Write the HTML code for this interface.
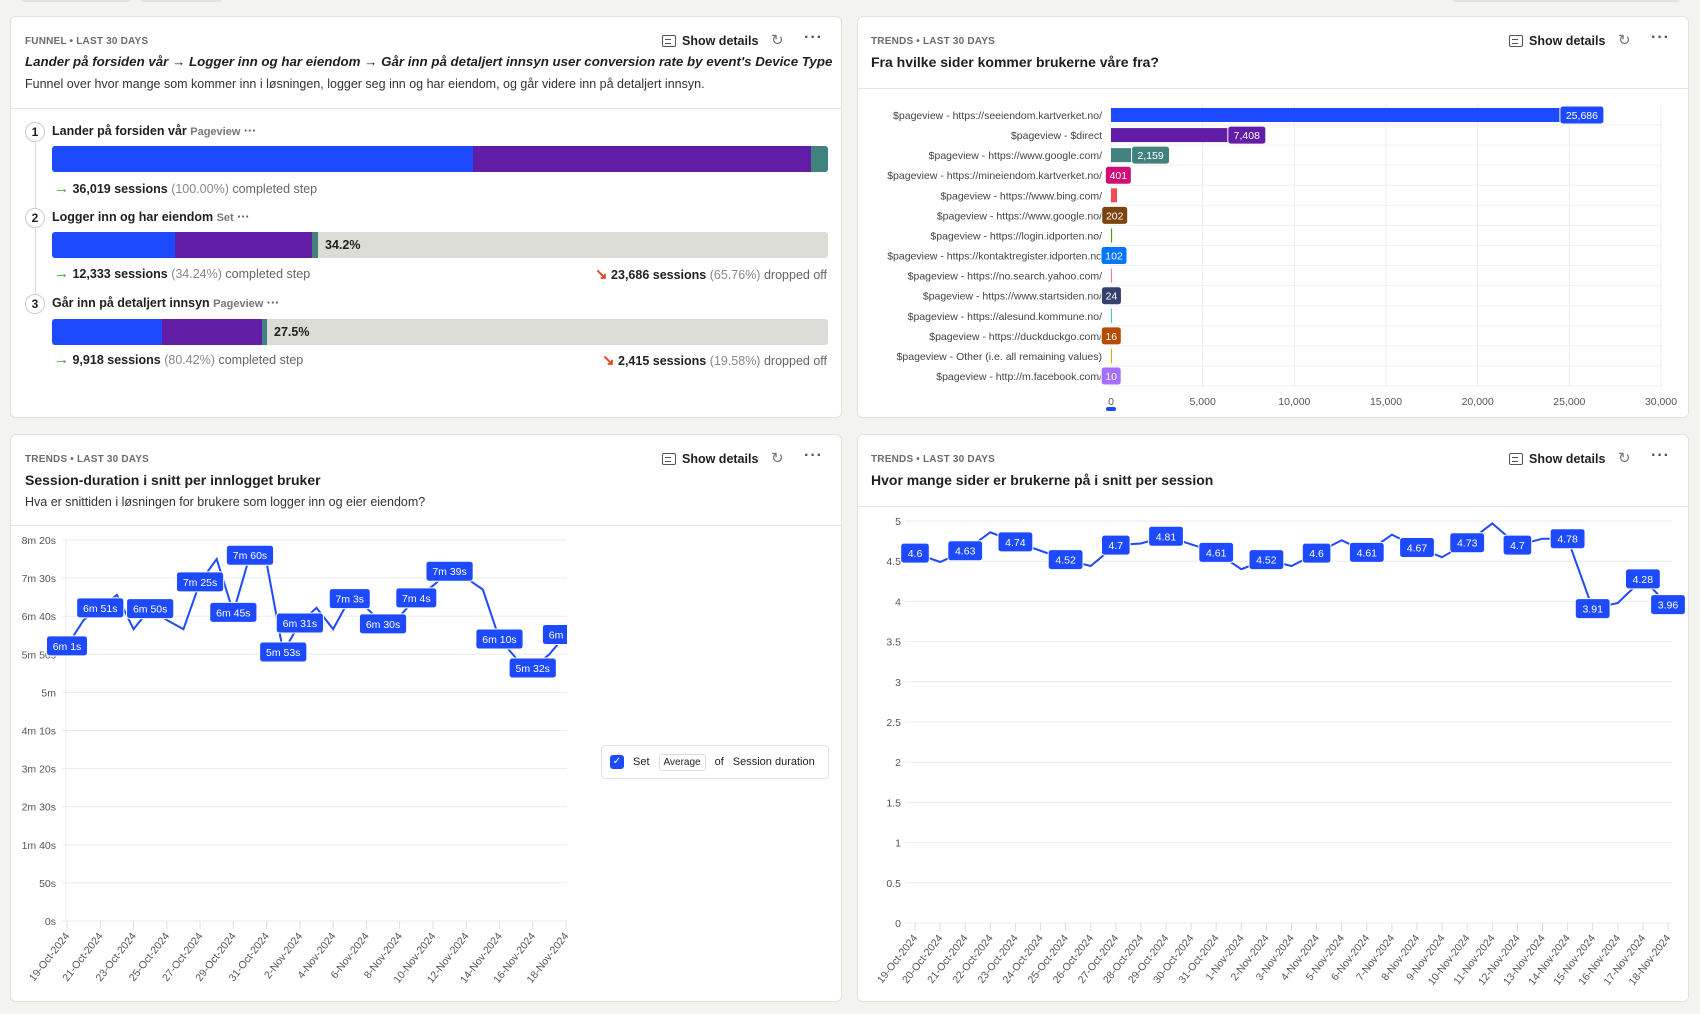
<!DOCTYPE html>
<html><head><meta charset="utf-8">
<style>
*{box-sizing:border-box;margin:0;padding:0}
body{width:1700px;height:1014px;background:#f3f3f0;font-family:"Liberation Sans",sans-serif;color:#1f1f1f;position:relative;overflow:hidden}
.card{position:absolute;background:#fff;border:1px solid #e3e3de;border-radius:6px}
.meta{position:absolute;font-size:10px;font-weight:bold;color:#6b6b6b;letter-spacing:.2px}
.title{position:absolute;font-size:14px;font-weight:bold;white-space:nowrap}
.desc{position:absolute;font-size:12.5px;color:#333;white-space:nowrap}
.hdrline{position:absolute;left:0;right:0;height:1px;background:#e6e6e1}
.btn{position:absolute;font-size:12.5px;font-weight:bold;display:flex;align-items:center;gap:6px;white-space:nowrap}
.ico{width:14px;height:12px;border:1.5px solid #555;border-radius:2px;position:relative}
.ico:after{content:"";position:absolute;left:2px;top:3px;width:6px;height:3px;border-top:1.5px solid #555;border-bottom:1.5px solid #555}
.ref{position:absolute;font-size:15px;color:#777}
.dots{position:absolute;font-size:16px;font-weight:bold;color:#555;letter-spacing:1px}
.step{position:absolute;font-size:12.5px;font-weight:bold;white-space:nowrap}
.step small{font-size:11px;color:#777;font-weight:bold}
.num{position:absolute;width:20px;height:20px;border:1px solid #ccc;border-radius:50%;font-size:12px;font-weight:bold;text-align:center;line-height:18px;background:#fff}
.bar{position:absolute;height:26px;border-radius:3px;overflow:hidden;display:flex;background:#dcdcd6}
.bar div{height:100%}
.stat{position:absolute;font-size:12.5px;white-space:nowrap}
.stat b{color:#222}.stat span{color:#888}
.stat .g{color:#3d9a2a;font-weight:bold;font-size:15px}.stat .r{color:#e8441c;font-weight:bold;font-size:15px}
svg text{font-family:"Liberation Sans",sans-serif}
</style></head><body>
<div style="position:absolute;left:22px;top:-4px;width:108px;height:6px;background:#e4e4df;border-radius:3px"></div>
<div style="position:absolute;left:140px;top:-4px;width:82px;height:6px;background:#e4e4df;border-radius:3px"></div>
<div style="position:absolute;left:1452px;top:-4px;width:228px;height:6px;background:#e4e4df;border-radius:3px"></div>

<!-- Funnel card -->
<div class="card" style="left:10px;top:16px;width:832px;height:402px">
 <div class="meta" style="left:14px;top:19px">FUNNEL • LAST 30 DAYS</div>
 <div class="btn" style="left:651px;top:17px"><span class="ico"></span>Show details</div>
 <div class="ref" style="left:760px;top:14px">↻</div>
 <div class="dots" style="left:793px;top:12px">···</div>
 <div class="title" style="left:14px;top:37px;font-style:italic;font-size:13.3px">Lander på forsiden vår → Logger inn og har eiendom → Går inn på detaljert innsyn user conversion rate by event's Device Type</div>
 <div class="desc" style="left:14px;top:60px">Funnel over hvor mange som kommer inn i løsningen, logger seg inn og har eiendom, og går videre inn på detaljert innsyn.</div>
 <div class="hdrline" style="top:91px"></div>
 <div style="position:absolute;left:24px;top:125px;width:1px;height:170px;background:#ddd"></div>
 <div class="num" style="left:14px;top:105px">1</div>
 <div class="step" style="left:41px;top:107px">Lander på forsiden vår <small>Pageview</small> <span style="color:#555">···</span></div>
 <div class="bar" style="left:41px;top:129px;width:776px"><div style="width:421px;background:#1d4aff"></div><div style="width:338px;background:#621da6"></div><div style="width:17px;background:#42827e"></div></div>
 <div class="stat" style="left:43px;top:163px"><span class="g">→</span> <b>36,019 sessions</b> <span>(100.00%)</span> <span style="color:#666">completed step</span></div>
 <div class="num" style="left:14px;top:191px">2</div>
 <div class="step" style="left:41px;top:193px">Logger inn og har eiendom <small>Set</small> <span style="color:#555">···</span></div>
 <div class="bar" style="left:41px;top:215px;width:776px"><div style="width:123px;background:#1d4aff"></div><div style="width:137px;background:#621da6"></div><div style="width:6px;background:#42827e"></div><b style="font-size:12.5px;line-height:26px;margin-left:7px">34.2%</b></div>
 <div class="stat" style="left:43px;top:248px"><span class="g">→</span> <b>12,333 sessions</b> <span>(34.24%)</span> <span style="color:#666">completed step</span></div>
 <div class="stat" style="right:14px;top:248px"><span class="r">↘</span> <b>23,686 sessions</b> <span>(65.76%)</span> <span style="color:#666">dropped off</span></div>
 <div class="num" style="left:14px;top:277px">3</div>
 <div class="step" style="left:41px;top:279px">Går inn på detaljert innsyn <small>Pageview</small> <span style="color:#555">···</span></div>
 <div class="bar" style="left:41px;top:302px;width:776px"><div style="width:110px;background:#1d4aff"></div><div style="width:100px;background:#621da6"></div><div style="width:5px;background:#42827e"></div><b style="font-size:12.5px;line-height:26px;margin-left:7px">27.5%</b></div>
 <div class="stat" style="left:43px;top:334px"><span class="g">→</span> <b>9,918 sessions</b> <span>(80.42%)</span> <span style="color:#666">completed step</span></div>
 <div class="stat" style="right:14px;top:334px"><span class="r">↘</span> <b>2,415 sessions</b> <span>(19.58%)</span> <span style="color:#666">dropped off</span></div>
</div>

<!-- Referrer card -->
<div class="card" style="left:857px;top:16px;width:832px;height:402px">
 <div class="meta" style="left:13px;top:19px">TRENDS • LAST 30 DAYS</div>
 <div class="btn" style="left:651px;top:17px"><span class="ico"></span>Show details</div>
 <div class="ref" style="left:760px;top:14px">↻</div>
 <div class="dots" style="left:793px;top:12px">···</div>
 <div class="title" style="left:13px;top:37px">Fra hvilke sider kommer brukerne våre fra?</div>
 <div class="hdrline" style="top:71px"></div>
</div>
<svg id="bars" style="position:absolute;left:0;top:0" width="1700" height="1014"></svg>

<!-- Session duration card -->
<div class="card" style="left:10px;top:434px;width:832px;height:568px">
 <div class="meta" style="left:14px;top:19px">TRENDS • LAST 30 DAYS</div>
 <div class="btn" style="left:651px;top:17px"><span class="ico"></span>Show details</div>
 <div class="ref" style="left:760px;top:14px">↻</div>
 <div class="dots" style="left:793px;top:12px">···</div>
 <div class="title" style="left:14px;top:37px">Session-duration i snitt per innlogget bruker</div>
 <div class="desc" style="left:14px;top:60px">Hva er snittiden i løsningen for brukere som logger inn og eier eiendom?</div>
 <div class="hdrline" style="top:90px"></div>
 <div style="position:absolute;left:590px;top:310px;width:228px;height:34px;border:1px solid #e3e3de;border-radius:4px;font-size:11px;display:flex;align-items:center;gap:9px;padding-left:8px">
  <span style="width:14px;height:14px;background:#1d4aff;border-radius:3px;color:#fff;font-size:10px;text-align:center;line-height:14px">✓</span>
  <span>Set</span><span style="border:1px solid #ddd;border-radius:3px;padding:2px 4px;font-size:10px">Average</span><span>of</span><span>Session duration</span>
 </div>
</div>
<svg id="dur" style="position:absolute;left:0;top:0" width="1700" height="1014"><defs><clipPath id="durclip"><rect x="0" y="500" width="567" height="500"/></clipPath></defs></svg>

<!-- Pages per session card -->
<div class="card" style="left:857px;top:434px;width:832px;height:568px">
 <div class="meta" style="left:13px;top:19px">TRENDS • LAST 30 DAYS</div>
 <div class="btn" style="left:651px;top:17px"><span class="ico"></span>Show details</div>
 <div class="ref" style="left:760px;top:14px">↻</div>
 <div class="dots" style="left:793px;top:12px">···</div>
 <div class="title" style="left:13px;top:37px">Hvor mange sider er brukerne på i snitt per session</div>
 <div class="hdrline" style="top:71px"></div>
</div>
<svg id="pps" style="position:absolute;left:0;top:0" width="1700" height="1014"></svg>

<script>
const NS="http://www.w3.org/2000/svg";
function mk(svg,tag,attrs,txt){const e=document.createElementNS(NS,tag);for(const k in attrs)e.setAttribute(k,attrs[k]);if(txt!==undefined)e.textContent=txt;svg.appendChild(e);return e;}

// ---- Referrer bar chart data ----
const refCategories=["$pageview - https://seeiendom.kartverket.no/","$pageview - $direct","$pageview - https://www.google.com/","$pageview - https://mineiendom.kartverket.no/","$pageview - https://www.bing.com/","$pageview - https://www.google.no/","$pageview - https://login.idporten.no/","$pageview - https://kontaktregister.idporten.no","$pageview - https://no.search.yahoo.com/","$pageview - https://www.startsiden.no/","$pageview - https://alesund.kommune.no/","$pageview - https://duckduckgo.com/","$pageview - Other (i.e. all remaining values)","$pageview - http://m.facebook.com/"];
const refValues=[25686,7408,2159,401,330,202,60,102,30,24,20,16,12,10];
const refShowLabel=[1,1,1,1,0,1,0,1,0,1,0,1,0,1];
const refColors=["#1d4aff","#621da6","#42827e","#ce0e74","#f14f58","#7c440e","#529a0a","#0476fb","#fe729e","#35416b","#41cbc4","#b64b02","#e4a604","#a56eff"];
const refTicks=[0,5000,10000,15000,20000,25000,30000];
(function(){
 const s=document.getElementById('bars');
 const x=v=>1111+v/30000*550, y=i=>115+i*20.08;
 refTicks.forEach(t=>{
  const gl=mk(s,'line',{x1:x(t),x2:x(t),y1:104,y2:387,stroke:'#ececec'});
  
  
  const tl=mk(s,'text',{x:x(t),y:405,'font-size':10.5,fill:'#555','text-anchor':'middle'},t.toLocaleString('en-US'));
  
  
 });
 mk(s,'rect',{x:1106,y:407,width:10,height:4,rx:2,fill:'#1d4aff'});
 refCategories.forEach((c,i)=>{
  mk(s,'line',{x1:1111,x2:1661,y1:y(i)+10,y2:y(i)+10,stroke:'#f0f0f0'});
  const lb=mk(s,'text',{x:1102,y:y(i)+4,'font-size':10.5,fill:'#444','text-anchor':'end'},c);
  
  
  const w=Math.max(1,x(refValues[i])-1111);
  const b=mk(s,'rect',{x:1111,y:y(i)-7,width:w,height:14,fill:refColors[i]});
  
  
  if(refShowLabel[i]){
   const t=refValues[i].toLocaleString('en-US');const bw=t.length*6+8;
   let cx=Math.max(x(refValues[i]),1101+bw/2);
   const r=mk(s,'rect',{x:cx-bw/2,y:y(i)-9,width:bw,height:18,rx:3,fill:refColors[i],stroke:'#fff','stroke-width':1});
   
   
   mk(s,'text',{x:cx,y:y(i)+4,'font-size':10.5,fill:'#fff','text-anchor':'middle'},t);
  }
 });
})();

// ---- Session duration data (seconds) ----
const durDates=["19-Oct-2024","20-Oct-2024","21-Oct-2024","22-Oct-2024","23-Oct-2024","24-Oct-2024","25-Oct-2024","26-Oct-2024","27-Oct-2024","28-Oct-2024","29-Oct-2024","30-Oct-2024","31-Oct-2024","1-Nov-2024","2-Nov-2024","3-Nov-2024","4-Nov-2024","5-Nov-2024","6-Nov-2024","7-Nov-2024","8-Nov-2024","9-Nov-2024","10-Nov-2024","11-Nov-2024","12-Nov-2024","13-Nov-2024","14-Nov-2024","15-Nov-2024","16-Nov-2024","17-Nov-2024","18-Nov-2024"];
const durValues=[361,395,411,428,383,410,395,383,445,475,405,480,470,353,391,411,383,423,411,390,400,424,440,459,450,435,370,345,332,350,376];
const durLabels=["6m 1s","","6m 51s","","","6m 50s","","","7m 25s","","6m 45s","7m 60s","","5m 53s","6m 31s","","","7m 3s","","6m 30s","","7m 4s","","7m 39s","","","6m 10s","","5m 32s","","6m 16s"];
const durTicks=["0s","50s","1m 40s","2m 30s","3m 20s","4m 10s","5m","5m 50s","6m 40s","7m 30s","8m 20s"];
(function(){
 const s=document.getElementById('dur');
 const x=i=>67+i*(566-67)/30, y=v=>921-v/500*381;
 durTicks.forEach((t,k)=>{
  const yy=y(k*50);
  mk(s,'line',{x1:62,x2:567,y1:yy,y2:yy,stroke:'#ebebeb'});
  const tl=mk(s,'text',{x:56,y:yy+4,'font-size':10.5,fill:'#555','text-anchor':'end'},t);
  
  
 });
 mk(s,'line',{x1:66,x2:66,y1:540,y2:921,stroke:'#ebebeb'});
 durDates.forEach((d,i)=>{
  if(i%2)return;
  mk(s,'line',{x1:x(i),x2:x(i),y1:921,y2:929,stroke:'#ddd'});
  const tl=mk(s,'text',{x:x(i)+3,y:936,'font-size':10.5,fill:'#555','text-anchor':'end',transform:`rotate(-52 ${x(i)+3} 936)`},d);
  
  
 });
 const g=mk(s,'g',{'clip-path':'url(#durclip)'});
 const ln=mk(g,'polyline',{points:durValues.map((v,i)=>x(i)+','+y(v)).join(' '),fill:'none',stroke:'#1d4aff','stroke-width':2});
 
 
 durLabels.forEach((t,i)=>{
  if(!t)return;
  const bw=t.length*6.2+10;
  const r=mk(g,'rect',{x:x(i)-bw/2,y:y(durValues[i])-10,width:bw,height:20,rx:3,fill:'#1d4aff',stroke:'#fff','stroke-width':1});
  
  
  mk(g,'text',{x:x(i),y:y(durValues[i])+4,'font-size':10.5,fill:'#fff','text-anchor':'middle'},t);
 });
})();

// ---- Pages per session data ----
const ppsDates=["19-Oct-2024","20-Oct-2024","21-Oct-2024","22-Oct-2024","23-Oct-2024","24-Oct-2024","25-Oct-2024","26-Oct-2024","27-Oct-2024","28-Oct-2024","29-Oct-2024","30-Oct-2024","31-Oct-2024","1-Nov-2024","2-Nov-2024","3-Nov-2024","4-Nov-2024","5-Nov-2024","6-Nov-2024","7-Nov-2024","8-Nov-2024","9-Nov-2024","10-Nov-2024","11-Nov-2024","12-Nov-2024","13-Nov-2024","14-Nov-2024","15-Nov-2024","16-Nov-2024","17-Nov-2024","18-Nov-2024"];
const ppsValues=[4.6,4.49,4.63,4.86,4.74,4.63,4.52,4.44,4.7,4.72,4.81,4.71,4.61,4.4,4.52,4.44,4.6,4.76,4.61,4.83,4.67,4.55,4.73,4.97,4.7,4.78,4.78,3.91,3.98,4.28,3.96];
const ppsLabeled=[1,0,1,0,1,0,1,0,1,0,1,0,1,0,1,0,1,0,1,0,1,0,1,0,1,0,1,1,0,1,1];
const ppsTicks=[0,0.5,1,1.5,2,2.5,3,3.5,4,4.5,5];
(function(){
 const s=document.getElementById('pps');
 const x=i=>915+i*(1668-915)/30, y=v=>923-v/5*402;
 ppsTicks.forEach(t=>{
  mk(s,'line',{x1:905,x2:1672,y1:y(t),y2:y(t),stroke:'#ebebeb'});
  const tl=mk(s,'text',{x:901,y:y(t)+4,'font-size':10.5,fill:'#555','text-anchor':'end'},String(t));
  
  
 });
 ppsDates.forEach((d,i)=>{
  mk(s,'line',{x1:x(i),x2:x(i),y1:923,y2:931,stroke:'#ddd'});
  const tl=mk(s,'text',{x:x(i)+3,y:938,'font-size':10.5,fill:'#555','text-anchor':'end',transform:`rotate(-52 ${x(i)+3} 938)`},d);
  
  
 });
 const ln=mk(s,'polyline',{points:ppsValues.map((v,i)=>x(i)+','+y(v)).join(' '),fill:'none',stroke:'#1d4aff','stroke-width':2});
 
 
 ppsValues.forEach((v,i)=>{
  if(!ppsLabeled[i])return;
  const t=String(v);const bw=t.length*6.2+10;
  const r=mk(s,'rect',{x:x(i)-bw/2,y:y(v)-10,width:bw,height:20,rx:3,fill:'#1d4aff',stroke:'#fff','stroke-width':1});
  
  
  mk(s,'text',{x:x(i),y:y(v)+4,'font-size':10.5,fill:'#fff','text-anchor':'middle'},t);
 });
})();
</script>
</body></html>
